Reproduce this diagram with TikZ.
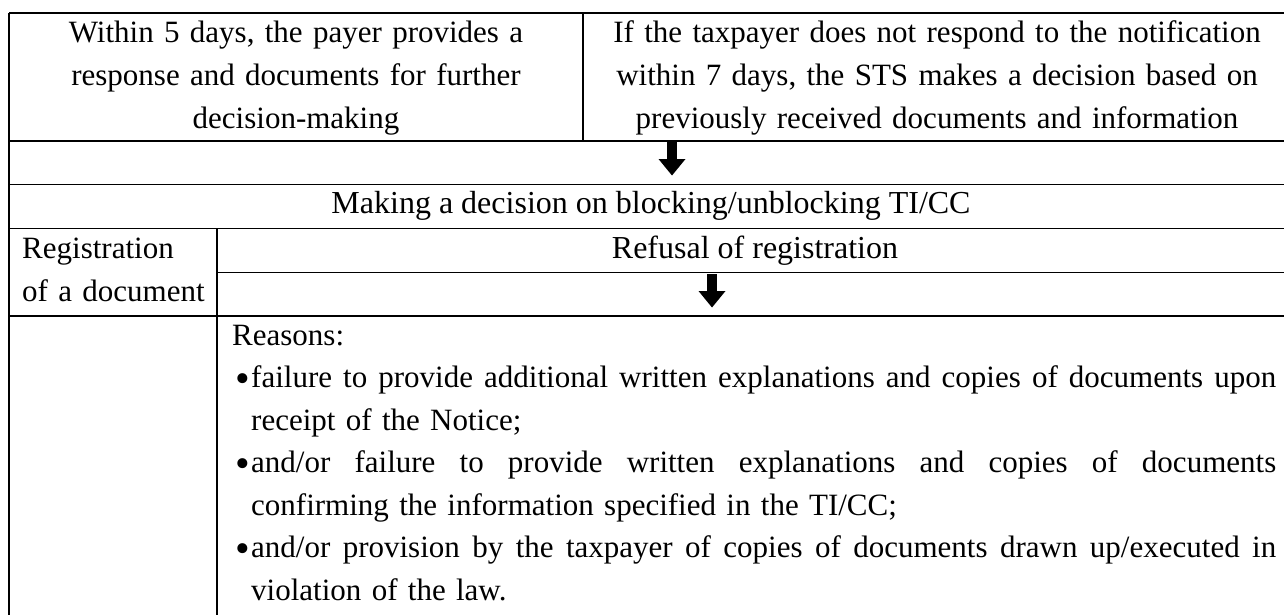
\documentclass[tikz,border=0pt]{standalone}
\usepackage{fontspec}
\setmainfont{Liberation Serif}
\newcommand{\bulletmark}{\makebox[19pt][l]{\hspace*{3pt}\raisebox{-5pt}{\scalebox{1.35}{\textbullet}}}}
\newcommand{\justline}[1]{\parbox[b]{1025pt}{\spaceskip=0pt\xspaceskip=0pt\rightskip=0pt\leftskip=0pt\parfillskip=0pt\parindent=0pt\relax #1}}
\begin{document}
\begin{tikzpicture}[x=1pt,y=-1pt,
  grid/.style={line width=1.5pt,black},
  cell/.style={inner sep=0pt,anchor=base,font=\fontsize{31}{43}\selectfont},
  bigcell/.style={cell,font=\fontsize{32}{43}\selectfont},
  downarrow/.pic={\fill[black] (-4.8,0) -- (4.8,0) -- (4.8,17) -- (13.5,17) -- (0,33.5) -- (-13.5,17) -- (-4.8,17) -- cycle;}
]
\useasboundingbox (0,0) rectangle (1284,615);
% table rules
\draw[grid] (9,13) -- (1284,13);
\draw[grid] (9,13) -- (9,615);
\draw[grid] (583,13) -- (583,141);
\draw[grid] (9,141) -- (1284,141);
\draw[grid] (9,184.5) -- (1284,184.5);
\draw[grid] (9,228.5) -- (1284,228.5);
\draw[grid] (217,272.5) -- (1284,272.5);
\draw[grid] (9,316) -- (1284,316);
\draw[grid] (217,228.5) -- (217,615);
% cell texts
\node[cell,text width=570pt,align=center] (topL) at (296,43)
  {Within 5 days, the payer provides a\\response and documents for further\\decision-making};
\node[cell,text width=690pt,align=center] (topR) at (937,43)
  {If the taxpayer does not respond to the notification\\within 7 days, the STS makes a decision based on\\previously received documents and information};
\node[bigcell] (decide) at (651,213) {Making a decision on blocking/unblocking TI/CC};
\node[cell,anchor=base west,text width=190pt,align=left] (reg) at (22,258)
  {Registration\\of a document};
\node[bigcell] (refusal) at (755,258) {Refusal of registration};
\node[cell,anchor=base west,text width=1046pt,align=left,font=\fontsize{31}{42.5}\selectfont] (reasons) at (232,345)
  {Reasons:\\
   \bulletmark\justline{failure to provide additional written explanations and copies of documents upon}\\
   \hspace*{19pt}receipt of the Notice;\\
   \bulletmark\justline{and/or failure to provide written explanations and copies of documents}\\
   \hspace*{19pt}confirming the information specified in the TI/CC;\\
   \bulletmark\justline{and/or provision by the taxpayer of copies of documents drawn up/executed in}\\
   \hspace*{19pt}violation of the law.};
% block arrows
\pic at (672,142) {downarrow};
\pic at (712,274) {downarrow};
\end{tikzpicture}
\end{document}
